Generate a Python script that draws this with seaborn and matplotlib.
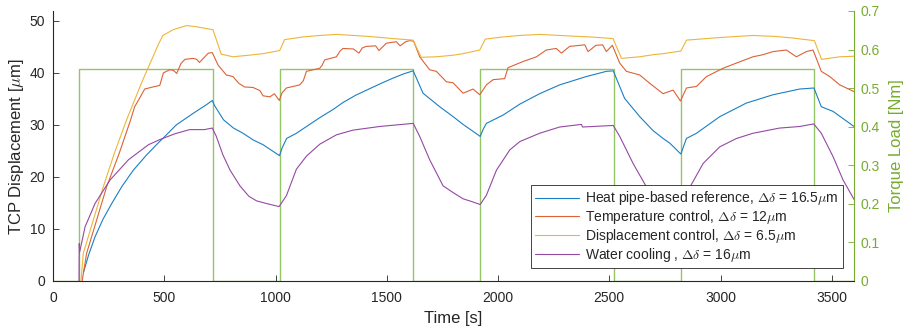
import matplotlib
matplotlib.use("Agg")
import matplotlib.pyplot as plt
import pandas as pd
import seaborn as sns

# ---- measured TCP displacement [um] over time [s] for each strategy ----
ref_t = [138, 160, 189, 225, 264, 310, 361, 420, 472, 503, 554, 629, 690, 716, 725, 766,
         811, 854, 900, 944, 1018, 1030, 1050, 1094, 1150, 1199, 1260, 1303, 1360, 1415,
         1470, 1528, 1575, 1619, 1663, 1738, 1798, 1843, 1920, 1935, 1948, 2023, 2098,
         2187, 2277, 2397, 2487, 2518, 2569, 2637, 2697, 2742, 2772, 2822, 2835, 2847,
         2892, 2997, 3116, 3236, 3356, 3420, 3453, 3506, 3600]
ref_d = [1.8, 5.0, 8.5, 11.9, 14.9, 18.2, 21.3, 24.2, 26.5, 27.8, 30.0, 32.2, 33.9, 34.7,
         33.8, 31.0, 29.4, 28.4, 27.1, 26.2, 24.1, 25.6, 27.4, 28.4, 30.0, 31.4, 33.0, 34.3,
         35.7, 36.8, 37.9, 39.0, 39.8, 40.4, 36.1, 33.5, 31.6, 30.1, 27.8, 29.3, 30.3, 31.9,
         34.0, 36.0, 37.7, 39.3, 40.3, 40.4, 35.1, 31.6, 28.9, 27.4, 26.5, 24.4, 26.0, 27.4,
         28.4, 31.6, 34.2, 35.8, 36.9, 37.1, 33.5, 32.6, 29.7]

temp_t = [131, 151, 196, 241, 298, 349, 367, 390, 412, 449, 480, 496, 524, 541, 556, 575,
          593, 629, 646, 658, 698, 716, 742, 779, 809, 835, 861, 899, 930, 944, 975, 995,
          1017, 1030, 1049, 1109, 1125, 1139, 1199, 1210, 1221, 1274, 1290, 1303, 1350,
          1375, 1390, 1408, 1450, 1465, 1498, 1543, 1560, 1585, 1603, 1621, 1648, 1693,
          1723, 1768, 1798, 1843, 1888, 1918, 1948, 1978, 2030, 2045, 2113, 2173, 2217,
          2262, 2285, 2322, 2390, 2405, 2440, 2470, 2487, 2514, 2547, 2577, 2637, 2682,
          2742, 2787, 2820, 2847, 2892, 2937, 3012, 3072, 3146, 3191, 3236, 3296, 3341,
          3386, 3416, 3453, 3491, 3536, 3600]
temp_d = [0.0, 5.3, 11.7, 18.1, 24.6, 31.0, 33.5, 35.2, 36.9, 37.3, 37.6, 40.0, 40.6, 40.5,
          39.9, 41.8, 42.6, 42.8, 42.6, 42.0, 43.8, 43.9, 41.5, 39.6, 39.3, 38.0, 37.3, 37.2,
          36.6, 35.6, 35.4, 36.0, 34.7, 36.2, 37.1, 37.7, 38.5, 40.3, 40.9, 41.5, 42.5, 43.1,
          44.2, 44.7, 44.6, 43.8, 44.8, 45.1, 45.2, 44.3, 45.7, 46.0, 45.2, 46.0, 46.2, 46.1,
          43.1, 40.6, 40.3, 38.3, 38.1, 36.1, 36.9, 35.8, 37.7, 38.7, 38.9, 41.0, 42.2, 43.1,
          44.4, 44.7, 43.8, 45.1, 45.4, 44.1, 45.3, 45.4, 44.1, 45.3, 41.9, 40.3, 39.6, 38.0,
          36.0, 36.7, 34.6, 37.1, 37.4, 39.3, 40.9, 41.9, 43.1, 43.5, 44.1, 44.4, 43.1, 44.1,
          44.4, 40.3, 39.3, 37.7, 36.4]

disp_t = [126, 136, 181, 226, 276, 331, 400, 476, 494, 540, 600, 640, 680, 719, 756, 809,
          880, 944, 1019, 1041, 1120, 1199, 1274, 1350, 1423, 1528, 1618, 1655, 1723, 1798,
          1843, 1918, 1943, 2020, 2098, 2187, 2322, 2420, 2517, 2555, 2637, 2697, 2742, 2822,
          2847, 2997, 3146, 3250, 3326, 3422, 3454, 3536, 3600]
disp_d = [0.0, 5.3, 11.7, 18.1, 24.6, 31.0, 38.3, 45.7, 47.2, 48.3, 49.1, 48.9, 48.6, 48.3,
          43.6, 43.1, 43.4, 43.7, 44.3, 46.4, 46.9, 47.2, 47.4, 47.2, 47.0, 46.6, 46.3, 43.0,
          43.1, 43.4, 43.7, 44.4, 46.5, 46.9, 47.2, 47.4, 47.1, 46.9, 46.6, 42.8, 43.1, 43.5,
          43.7, 44.2, 46.3, 46.8, 47.2, 47.0, 46.7, 46.2, 42.6, 43.1, 43.2]

water_t = [117, 118, 120, 144, 189, 256, 339, 429, 481, 548, 614, 680, 716, 734, 764, 796,
           840, 880, 915, 959, 1016, 1049, 1094, 1139, 1199, 1274, 1348, 1468, 1619, 1648,
           1693, 1753, 1798, 1843, 1880, 1920, 1948, 1993, 2053, 2098, 2187, 2277, 2375,
           2380, 2518, 2547, 2607, 2663, 2720, 2770, 2821, 2862, 2922, 2997, 3072, 3146,
           3266, 3356, 3419, 3453, 3506, 3551, 3600]
water_d = [0.0, 7.2, 5.6, 10.4, 14.9, 19.4, 23.3, 26.2, 27.2, 28.3, 29.1, 29.1, 29.4, 27.8,
           24.2, 21.3, 18.3, 16.3, 15.4, 14.9, 14.3, 16.4, 21.5, 24.0, 26.3, 28.1, 29.0, 29.7,
           30.3, 27.8, 23.3, 18.3, 17.0, 15.8, 15.3, 14.7, 16.5, 21.3, 25.2, 26.8, 28.4, 29.6,
           30.1, 29.6, 29.9, 27.8, 22.6, 18.4, 16.3, 15.3, 14.6, 18.0, 22.6, 25.8, 27.4, 28.4,
           29.4, 29.7, 30.2, 28.4, 23.9, 19.4, 15.7]

# ---- spindle torque load [Nm] (step profile) ----
torque_t = [0, 118, 718, 1018, 1620, 1919, 2520, 2821, 3421, 3600]
torque_v = [0.0, 0.55, 0.0, 0.55, 0.0, 0.55, 0.0, 0.55, 0.0, 0.0]

series_labels = [
    r"Heat pipe-based reference, $\Delta\delta$ = 16.5$\mu$m",
    r"Temperature control, $\Delta\delta$ = 12$\mu$m",
    r"Displacement control, $\Delta\delta$ = 6.5$\mu$m",
    r"Water cooling , $\Delta\delta$ = 16$\mu$m",
]
series_colors = ["#1A7FC4", "#DC6236", "#EDB53A", "#9449A3"]
GREEN = "#77AC30"
GREEN_LINE = "#95C566"
DARK = "#262626"

x_ticks = [0, 500, 1000, 1500, 2000, 2500, 3000, 3500]
y_ticks = [0, 10, 20, 30, 40, 50]
torque_ticks = [0, 0.1, 0.2, 0.3, 0.4, 0.5, 0.6, 0.7]

sns.set_theme(style="white")
plt.rcParams["font.family"] = ["Liberation Sans", "DejaVu Sans"]
plt.rcParams["mathtext.fontset"] = "cm"
plt.rcParams["axes.unicode_minus"] = False

W, H = 910, 332
fig = plt.figure(figsize=(W / 100, H / 100), dpi=100)
ax = fig.add_axes([53 / W, 51 / H, 801 / W, 270 / H])
ax2 = ax.twinx()

# torque profile on the right axis, drawn beneath the displacement curves
torque_df = pd.DataFrame({"t": torque_t, "v": torque_v})
sns.lineplot(data=torque_df, x="t", y="v", ax=ax2, color=GREEN_LINE, lw=1.0,
             drawstyle="steps-post", sort=False, estimator=None, legend=False)

series = [(ref_t, ref_d), (temp_t, temp_d), (disp_t, disp_d), (water_t, water_d)]
for (t, d), lab, col in zip(series, series_labels, series_colors):
    df = pd.DataFrame({"t": t, "d": d})
    sns.lineplot(data=df, x="t", y="d", ax=ax, color=col, lw=0.8, label=lab,
                 sort=False, estimator=None, legend=False)

ax.set_zorder(ax2.get_zorder() + 1)
ax.patch.set_visible(False)

ax.set_xlim(0, 3600)
ax.set_ylim(0, 51.9)
ax2.set_ylim(0, 0.7)
ax.set_xticks(x_ticks)
ax.set_yticks(y_ticks)
ax2.set_yticks(torque_ticks)
ax2.set_yticklabels(["0"] + [f"{v:.1f}" for v in torque_ticks[1:]])

for s in ["top", "right"]:
    ax.spines[s].set_visible(False)
for s in ["top", "left", "bottom"]:
    ax2.spines[s].set_visible(False)
for s in ["left", "bottom"]:
    ax.spines[s].set_color(DARK)
    ax.spines[s].set_linewidth(0.8)
ax2.spines["right"].set_color(GREEN)
ax2.spines["right"].set_linewidth(0.8)

ax.tick_params(axis="x", direction="in", length=4, width=0.6, color=DARK,
               labelcolor=DARK, labelsize=10, pad=7.5, bottom=True, top=False)
ax.tick_params(axis="y", direction="in", length=4, width=0.6, color=DARK,
               labelcolor=DARK, labelsize=10, pad=5.8, left=True, right=False)
ax2.tick_params(axis="y", direction="in", length=4, width=0.6, color=GREEN,
                labelcolor=GREEN, labelsize=10, pad=4.8, right=True, left=False)

ax.set_xlabel("Time [s]", fontsize=12, color=DARK)
ax.set_ylabel(r"TCP Displacement [$\mu$m]", fontsize=12, color=DARK)
ax2.set_ylabel("Torque Load [Nm]", fontsize=12, color=GREEN)
ax.xaxis.set_label_coords(0.5, -0.111)
ax.yaxis.set_label_coords((26 - 53) / 801, 0.5)
ax2.yaxis.set_label_coords((889.5 - 53) / 801, 0.5)

handles, labels = ax.get_legend_handles_labels()
leg = ax.legend(handles, labels, loc="lower right", bbox_to_anchor=(0.9859, 0.0493),
                frameon=True, fancybox=False, framealpha=1, edgecolor=DARK,
                fontsize=10, handlelength=3.2, handletextpad=0.4, borderpad=0.3,
                labelspacing=0.05, borderaxespad=0)
leg.get_frame().set_linewidth(0.6)
for line in leg.get_lines():
    line.set_linewidth(0.8)
for txt in leg.get_texts():
    txt.set_color(DARK)

fig.savefig("out.png", dpi=100)
